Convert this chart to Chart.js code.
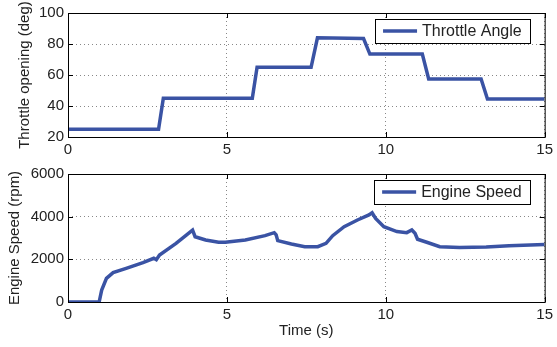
<!DOCTYPE html>
<html>
<head>
<meta charset="utf-8">
<script src="https://cdn.jsdelivr.net/npm/chart.js@4"></script>
<style>
  body { margin: 0; background: #fff; }
  #wrap { position: relative; width: 557px; height: 347px; }
  canvas { position: absolute; left: 0; }
</style>
</head>
<body>
<div id="wrap">
  <canvas id="topChart" width="557" height="160" style="top:0"></canvas>
  <canvas id="bottomChart" width="557" height="187" style="top:160px"></canvas>
</div>
<script>
// throttle step profile
const throttleTime = [0, 2.85, 3.0, 5.8, 5.95, 7.65, 7.85, 9.3, 9.5, 11.15, 11.35, 13.0, 13.2, 15];
const throttleAngle = [25, 25, 45, 45, 65, 65, 84, 83.5, 73.5, 73.5, 57.5, 57.5, 44.5, 44.5];

// engine speed response
const speedTime = [0, 0.98, 1.06, 1.21, 1.42, 1.83, 2.36, 2.7, 2.78, 2.88, 3.4, 3.86, 3.92, 4.0, 4.33, 4.74, 4.95, 5.58, 6.2, 6.49, 6.55, 6.6, 7.03, 7.45, 7.86, 8.12, 8.33, 8.69, 9.11, 9.47, 9.57, 9.68, 9.94, 10.35, 10.66, 10.82, 10.92, 11.0, 11.29, 11.7, 12.32, 13.16, 13.88, 15];
const engineSpeed = [0, 0, 560, 1110, 1375, 1580, 1845, 2050, 1980, 2200, 2750, 3300, 3370, 3060, 2905, 2800, 2800, 2905, 3110, 3250, 3150, 2875, 2720, 2595, 2595, 2750, 3110, 3530, 3845, 4080, 4185, 3920, 3530, 3300, 3250, 3375, 3220, 2940, 2800, 2595, 2550, 2580, 2640, 2700];

const xTicks = [0, 5, 10, 15];
const throttleTicks = [20, 40, 60, 80, 100];
const speedTicks = [0, 2000, 4000, 6000];

const lineColor = '#3a53a4';
const textColor = '#222';
const fontFam = '"Liberation Sans", Arial, Helvetica, sans-serif';

// box, inward ticks and legend like matlab
const matlabFrame = {
  id: 'matlabFrame',
  afterDraw(chart) {
    const { ctx, chartArea: a, scales } = chart;
    ctx.save();
    ctx.strokeStyle = '#000';
    ctx.lineWidth = 1;
    ctx.strokeRect(a.left + 0.5, a.top + 0.5, a.right - a.left, a.bottom - a.top);
    const tl = 5;
    ctx.beginPath();
    scales.x.ticks.forEach(t => {
      const px = Math.round(scales.x.getPixelForValue(t.value)) + 0.5;
      ctx.moveTo(px, a.bottom); ctx.lineTo(px, a.bottom - tl);
      ctx.moveTo(px, a.top); ctx.lineTo(px, a.top + tl);
    });
    scales.y.ticks.forEach(t => {
      const py = Math.round(scales.y.getPixelForValue(t.value)) + 0.5;
      ctx.moveTo(a.left, py); ctx.lineTo(a.left + tl, py);
      ctx.moveTo(a.right, py); ctx.lineTo(a.right - tl, py);
    });
    ctx.stroke();

    // legend
    const ds = chart.data.datasets[0];
    ctx.font = '16px ' + fontFam;
    const tw = ctx.measureText(ds.label).width;
    const w = 8 + 34 + 5 + tw + 8, h = 24;
    const x = a.right - 15 - w, y = a.top + 6;
    ctx.fillStyle = '#fff';
    ctx.fillRect(x, y, w, h);
    ctx.strokeRect(Math.round(x) + 0.5, Math.round(y) + 0.5, Math.round(w), h);
    ctx.strokeStyle = ds.borderColor;
    ctx.lineWidth = 3.5;
    ctx.beginPath();
    ctx.moveTo(x + 8, y + h / 2); ctx.lineTo(x + 42, y + h / 2);
    ctx.stroke();
    ctx.fillStyle = textColor;
    ctx.textBaseline = 'middle';
    ctx.fillText(ds.label, x + 47, y + h / 2 + 1);
    ctx.restore();
  }
};

const makeChart = (id, label, xs, ys, yTicks, opts) => {
  const points = xs.map((t, i) => ({ x: t, y: ys[i] }));
  return new Chart(document.getElementById(id), {
    type: 'line',
    data: {
      datasets: [{
        label: label,
        data: points,
        borderColor: lineColor,
        borderWidth: 3.5,
        pointRadius: 0,
        tension: 0,
        fill: false
      }]
    },
    options: {
      responsive: false,
      animation: false,
      layout: { padding: { left: 0, right: 9, top: opts.top, bottom: 0 } },
      plugins: { legend: { display: false }, tooltip: { enabled: false } },
      scales: {
        x: {
          type: 'linear',
          min: 0, max: 15,
          afterBuildTicks: s => { s.ticks = xTicks.map(v => ({ value: v })); },
          afterFit: s => { s.height = opts.xHeight; },
          ticks: { color: textColor, font: { family: fontFam, size: 15 }, padding: 4, maxRotation: 0, callback: v => String(v) },
          grid: { color: '#888', drawTicks: false },
          border: { display: false, dash: [1, 3] },
          title: {
            display: !!opts.xTitle, text: opts.xTitle || '',
            color: textColor, font: { family: fontFam, size: 15 },
            padding: { top: 0, bottom: 7 }
          }
        },
        y: {
          min: yTicks[0], max: yTicks[yTicks.length - 1],
          afterBuildTicks: s => { s.ticks = yTicks.map(v => ({ value: v })); },
          afterFit: s => { s.width = 68; },
          ticks: { color: textColor, font: { family: fontFam, size: 15 }, padding: 4, callback: v => String(v) },
          grid: { color: '#888', drawTicks: false },
          border: { display: false, dash: [1, 3] },
          title: {
            display: true, text: opts.yTitle,
            color: textColor, font: { family: fontFam, size: 15 },
            padding: { top: opts.yTitlePad, bottom: 0 }
          }
        }
      }
    },
    plugins: [matlabFrame]
  });
};

makeChart('topChart', 'Throttle Angle', throttleTime, throttleAngle, throttleTicks,
  { top: 8, xHeight: 23, yTitle: 'Throttle opening (deg)', yTitlePad: 16 });
makeChart('bottomChart', 'Engine Speed', speedTime, engineSpeed, speedTicks,
  { top: 14, xHeight: 45, xTitle: 'Time (s)', yTitle: 'Engine Speed (rpm)', yTitlePad: 6 });
</script>
</body>
</html>
